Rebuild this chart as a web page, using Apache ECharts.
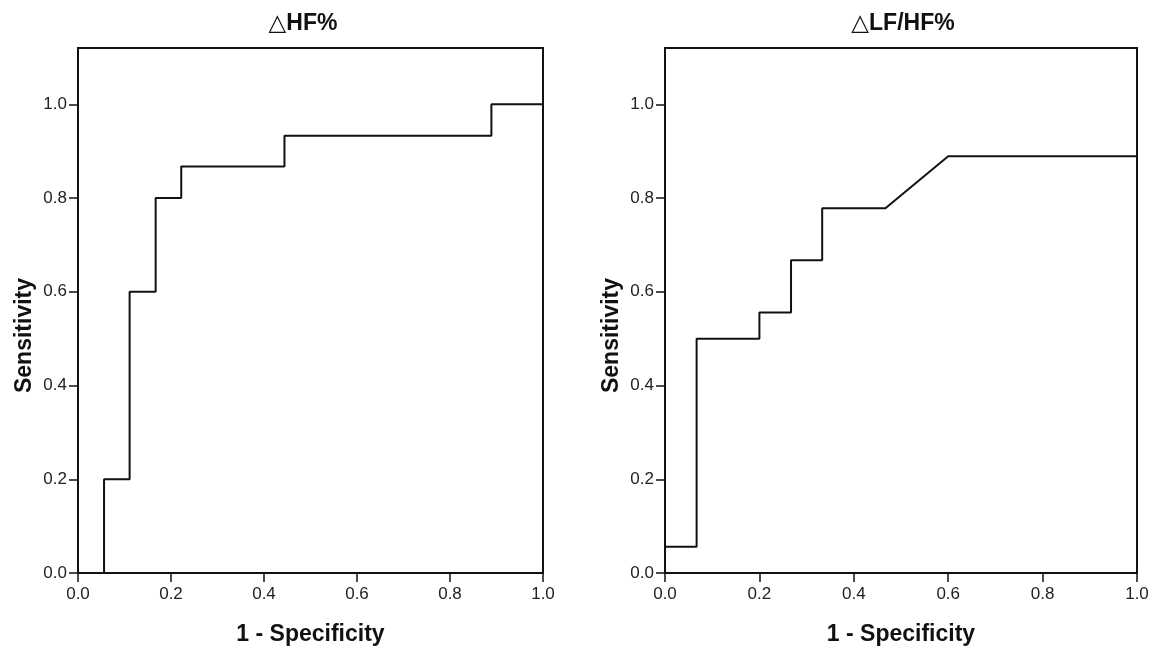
<!DOCTYPE html>
<html>
<head>
<meta charset="utf-8">
<script src="https://cdn.jsdelivr.net/npm/echarts@6/dist/echarts.min.js"></script>
<style>html,body{margin:0;padding:0;background:#fff;}#c{width:1153px;height:651px;}</style>
</head>
<body>
<div id="c"></div>
<script>
// Data
const titles = ['\u25B3HF%', '\u25B3LF/HF%'];
const xAxisName = '1 - Specificity';
const yAxisName = 'Sensitivity';
const tickValues = [0, 0.2, 0.4, 0.6, 0.8, 1.0];
const hfX = [0, 0.056, 0.056, 0.111, 0.111, 0.167, 0.167, 0.222, 0.222, 0.444, 0.444, 0.889, 0.889, 1.0];
const hfY = [0, 0, 0.2, 0.2, 0.6, 0.6, 0.8, 0.8, 0.867, 0.867, 0.933, 0.933, 1.0, 1.0];
const lfhfX = [0, 0, 0.067, 0.067, 0.2, 0.2, 0.267, 0.267, 0.333, 0.333, 0.467, 0.6, 1.0, 1.0];
const lfhfY = [0, 0.056, 0.056, 0.5, 0.5, 0.556, 0.556, 0.667, 0.667, 0.778, 0.778, 0.889, 0.889, 1.0];

const font = '"Liberation Sans", Arial, "DejaVu Sans", sans-serif';
const pair = (xs, ys) => xs.map((x, i) => [x, ys[i]]);

const grids = [
  {left: 78, right: 610, top: 48, bottom: 78},
  {left: 665, right: 16, top: 48, bottom: 78}
];
const centers = [298, 898];

function xAx(i) {
  return {
    type: 'value', gridIndex: i, min: 0, max: 1, interval: 0.2,
    name: xAxisName, nameLocation: 'middle', nameGap: 50,
    nameTextStyle: {fontFamily: font, fontSize: 23, fontWeight: 'bold', color: '#111'},
    axisLine: {show: true, onZero: false, lineStyle: {color: '#111', width: 2}},
    axisTick: {show: true, length: 9, lineStyle: {color: '#111', width: 1.5}},
    axisLabel: {fontFamily: font, fontSize: 17, color: '#222', margin: 13, formatter: v => v.toFixed(1)},
    splitLine: {show: false}
  };
}
function yAx(i) {
  return {
    type: 'value', gridIndex: i, min: 0, max: 1.12, interval: 0.2,
    name: yAxisName, nameLocation: 'middle', nameGap: 42, nameRotate: 90,
    nameTextStyle: {fontFamily: font, fontSize: 23, fontWeight: 'bold', color: '#111', padding: [0, 50, 0, 0]},
    axisLine: {show: true, onZero: false, lineStyle: {color: '#111', width: 2}},
    axisTick: {show: true, length: 9, customValues: tickValues, lineStyle: {color: '#111', width: 1.5}},
    axisLabel: {fontFamily: font, fontSize: 17, color: '#222', margin: 11, customValues: tickValues, formatter: v => v.toFixed(1)},
    splitLine: {show: false}
  };
}

const option = {
  backgroundColor: '#fff',
  animation: false,
  title: titles.map((t, i) => ({
    text: t, left: centers[i], top: 7, textAlign: 'center',
    textStyle: {fontFamily: font, fontSize: 23, fontWeight: 'bold', color: '#111'}
  })),
  grid: grids.map(g => Object.assign({show: true, borderColor: '#111', borderWidth: 2, backgroundColor: '#fff'}, g)),
  xAxis: [xAx(0), xAx(1)],
  yAxis: [yAx(0), yAx(1)],
  series: [
    {type: 'line', xAxisIndex: 0, yAxisIndex: 0, data: pair(hfX, hfY), showSymbol: false,
     lineStyle: {color: '#111', width: 2}},
    {type: 'line', xAxisIndex: 1, yAxisIndex: 1, data: pair(lfhfX, lfhfY), showSymbol: false,
     lineStyle: {color: '#111', width: 2}}
  ]
};
echarts.init(document.getElementById('c')).setOption(option);
</script>
</body>
</html>
